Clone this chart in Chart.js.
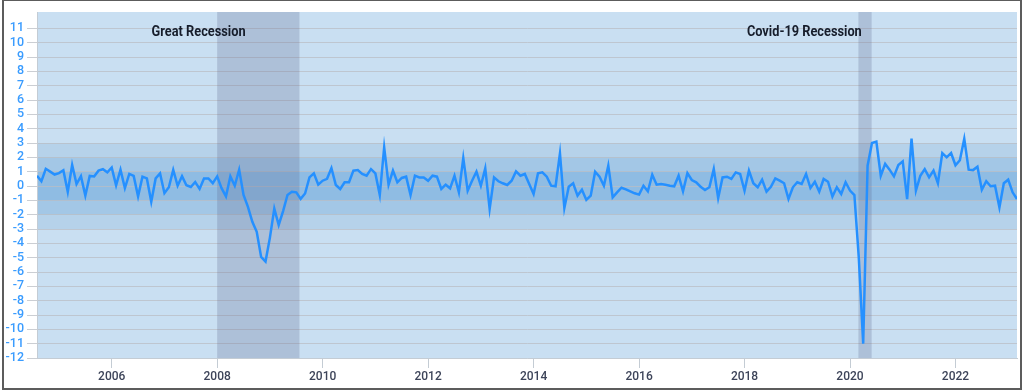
<!DOCTYPE html>
<html>
<head>
<meta charset="utf-8">
<script src="https://cdn.jsdelivr.net/npm/chart.js@4"></script>
<style>
  html, body { margin: 0; padding: 0; background: #ffffff; }
  #wrap { position: relative; width: 1024px; height: 392px; overflow: hidden; }
  #c { position: absolute; left: 0; top: 0; }
  #frame { position: absolute; left: 2px; top: 0; width: 1016px; height: 387px; border: 2px solid #5c5c5c; border-top-width: 1px; pointer-events: none; }
</style>
</head>
<body>
<div id="wrap">
  <canvas id="c" width="1024" height="392"></canvas>
  <div id="frame"></div>
</div>
<script>
// ---- data ----
const startYear = 2004;
const startMonth = 8; // August 2004, monthly observations
const values = [
  0.72, 0.33, 1.2, 1.0, 0.8, 0.9, 1.1, -0.4, 1.47, 0.14, 0.68, -0.67,
  0.7, 0.67, 1.07, 1.17, 0.95, 1.28, 0.05, 1.14, -0.14, 0.84, 0.7, -0.72,
  0.65, 0.53, -1.1, 0.53, 0.88, -0.5, -0.09, 1.12, 0.02, 0.68, 0.05, -0.07,
  0.28, -0.2, 0.53, 0.53, 0.2, 0.67, -0.15, -0.72, 0.67, 0.02, 1.14, -0.62,
  -1.45, -2.5, -3.2, -4.95, -5.27, -3.6, -1.58, -2.72, -1.75, -0.62, -0.4, -0.44,
  -0.9, -0.52, 0.6, 0.88, 0.09, 0.37, 0.5, 1.25, 0.07, -0.21, 0.26, 0.26,
  1.07, 1.11, 0.84, 0.72, 1.18, 0.88, -0.63, 2.69, 0.09, 1.07, 0.26, 0.56,
  0.65, -0.63, 0.72, 0.6, 0.6, 0.37, 0.72, 0.65, -0.21, 0.09, -0.16, 0.72,
  -0.44, 1.95, -0.33, 0.37, 1.0, 0.02, 1.23, -1.6, 0.6, 0.33, 0.19, 0.07,
  0.37, 1.02, 0.72, 0.84, 0.14, -0.56, 0.88, 0.95, 0.65, 0.02, -0.02, 2.27,
  -1.53, -0.05, 0.19, -0.67, -0.26, -0.97, -0.67, 1.0, 0.65, 0.02, 1.42, -0.79,
  -0.44, -0.12, -0.23, -0.37, -0.51, -0.6, 0.02, -0.37, 0.79, 0.09, 0.14, 0.09,
  0.02, -0.02, 0.72, -0.37, 0.9, 0.42, 0.26, -0.05, -0.28, -0.09, 1.18, -0.84,
  0.6, 0.65, 0.49, 0.95, 0.84, -0.33, 1.07, 0.19, -0.09, 0.44, -0.39, -0.05,
  0.53, 0.37, 0.19, -0.91, -0.09, 0.26, 0.14, 0.84, -0.14, 0.3, -0.39, 0.49,
  0.3, -0.74, -0.09, -0.56, 0.26, -0.32, -0.63, -5.0, -11.0, 1.42, 3.0, 3.1,
  0.72, 1.55, 1.14, 0.67, 1.46, 1.72, -0.91, 3.3, -0.32, 0.72, 1.18, 0.6,
  1.07, 0.19, 2.3, 2.0, 2.3, 1.45, 1.8, 3.3, 1.14, 1.11, 1.35, -0.26,
  0.33, -0.02, 0.02, -1.49, 0.19, 0.44, -0.44, -0.91
];
const xTickYears = [2006, 2008, 2010, 2012, 2014, 2016, 2018, 2020, 2022];
const yTickValues = [-12, -11, -10, -9, -8, -7, -6, -5, -4, -3, -2, -1, 0, 1, 2, 3, 4, 5, 6, 7, 8, 9, 10, 11];
const bandLimits = [3, 2, 1];
const recessionStarts = [2008.0, 2020.16];
const recessionEnds = [2009.56, 2020.41];
const recessionLabels = ['Great Recession', 'Covid-19 Recession'];
const recessionLabelX = [2007.647, 2019.134];

// ---- build ----
const points = values.map((v, i) => ({ x: startYear + (startMonth - 1 + i) / 12, y: v }));
const xMin = startYear + (startMonth - 1) / 12;
const xMax = startYear + (startMonth - 1 + values.length - 1) / 12;

const bandColors = ['#b6d2ea', '#a3c7e6', '#8fbce3'];
const bgColor = '#c9dff2';

const bandsPlugin = {
  id: 'bands',
  beforeDraw(chart) {
    const { ctx, chartArea: a, scales: { y } } = chart;
    ctx.save();
    ctx.fillStyle = bgColor;
    ctx.fillRect(a.left, a.top, a.right - a.left, a.bottom - a.top);
    bandLimits.forEach((lim, k) => {
      const t = y.getPixelForValue(lim), b = y.getPixelForValue(-lim);
      ctx.fillStyle = bandColors[k];
      ctx.fillRect(a.left, t, a.right - a.left, b - t);
    });
    ctx.restore();
  },
  beforeDatasetsDraw(chart) {
    const { ctx, chartArea: a, scales: { x } } = chart;
    ctx.save();
    ctx.fillStyle = 'rgba(90,100,140,0.25)';
    recessionStarts.forEach((s, k) => {
      const l = x.getPixelForValue(s), r = x.getPixelForValue(recessionEnds[k]);
      ctx.fillRect(l, a.top, r - l, a.bottom - a.top);
    });
    ctx.fillStyle = '#161d2b';
    ctx.font = 'bold 15px Roboto';
    ctx.textBaseline = 'middle';
    ctx.textAlign = 'center';
    const sx = 94 / ctx.measureText(recessionLabels[0]).width;
    recessionLabels.forEach((t, k) => {
      const cx = x.getPixelForValue(recessionLabelX[k]);
      ctx.save();
      ctx.translate(cx, a.top + 20);
      ctx.scale(sx, 1);
      ctx.fillText(t, 0, 0);
      ctx.restore();
    });
    ctx.restore();
  }
};

new Chart(document.getElementById('c'), {
  type: 'line',
  data: {
    datasets: [{
      data: points,
      borderColor: '#2590ff',
      borderWidth: 2.5,
      pointRadius: 0,
      tension: 0,
      fill: false
    }]
  },
  options: {
    responsive: false,
    animation: false,
    events: [],
    layout: { padding: { left: 0, right: 7, top: 12, bottom: 0 } },
    plugins: { legend: { display: false }, tooltip: { enabled: false } },
    scales: {
      x: {
        type: 'linear',
        min: xMin,
        max: xMax,
        afterBuildTicks(scale) { scale.ticks = xTickYears.map(v => ({ value: v })); },
        afterFit(scale) { scale.height = 34; },
        grid: { drawOnChartArea: false, drawTicks: true, tickLength: 10, color: '#c4ccd4' },
        border: { display: true, color: '#c4ccd4' },
        ticks: {
          autoSkip: false, maxRotation: 0, padding: 2,
          color: '#3d4459',
          font: { family: 'Roboto', size: 12, weight: '500' },
          callback: v => String(v)
        }
      },
      y: {
        type: 'linear',
        min: -12,
        max: 12.14,
        afterBuildTicks(scale) { scale.ticks = yTickValues.map(v => ({ value: v })); },
        afterFit(scale) { scale.width = 37; },
        grid: { color: 'rgba(185,190,196,0.75)', lineWidth: 1, drawTicks: true, tickLength: 10 },
        border: { display: true, color: '#c4ccd4' },
        ticks: {
          autoSkip: false, padding: 3,
          color: '#3a9cff',
          font: { family: 'Roboto', size: 12.5, weight: '500' },
          callback: v => String(v)
        }
      }
    }
  },
  plugins: [bandsPlugin]
});
</script>
</body>
</html>
